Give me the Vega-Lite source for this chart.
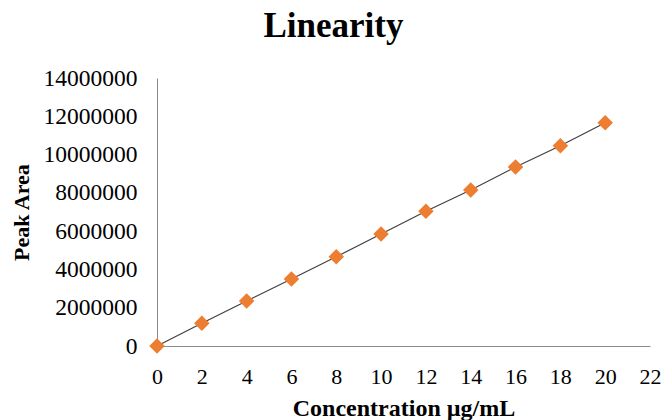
{
  "$schema": "https://vega.github.io/schema/vega-lite/v6.json",
  "width": 493,
  "height": 268,
  "autosize": "none",
  "padding": {"left": 157, "top": 78, "right": 15, "bottom": 74},
  "background": "white",
  "title": {
    "text": "Linearity",
    "font": "Liberation Serif",
    "fontSize": 35,
    "fontWeight": "bold",
    "color": "black",
    "anchor": "middle",
    "dx": -70,
    "offset": 22
  },
  "config": {
    "view": {"stroke": null},
    "axis": {
      "labelFont": "Liberation Serif",
      "titleFont": "Liberation Serif",
      "labelFontSize": 21,
      "titleFontSize": 22,
      "titleFontWeight": "bold",
      "labelColor": "black",
      "titleColor": "black",
      "domainColor": "#8c8c8c",
      "domainWidth": 1,
      "ticks": false,
      "grid": false
    }
  },
  "data": {
    "values": [
      {"conc": 0, "area": 0},
      {"conc": 2, "area": 1190000},
      {"conc": 4, "area": 2350000},
      {"conc": 6, "area": 3500000},
      {"conc": 8, "area": 4660000},
      {"conc": 10, "area": 5850000},
      {"conc": 12, "area": 7040000},
      {"conc": 14, "area": 8150000},
      {"conc": 16, "area": 9350000},
      {"conc": 18, "area": 10460000},
      {"conc": 20, "area": 11660000}
    ]
  },
  "encoding": {
    "x": {
      "field": "conc",
      "type": "quantitative",
      "scale": {"domain": [0, 22], "nice": false},
      "axis": {"values": [0, 2, 4, 6, 8, 10, 12, 14, 16, 18, 20, 22], "labelFont": "Liberation Serif", "labelFontSize": 22, "labelPadding": 20, "title": "Concentration µg/mL", "titleFont": "Liberation Serif", "titleFontSize": 24, "titlePadding": 9, "labelFlush": false}
    },
    "y": {
      "field": "area",
      "type": "quantitative",
      "scale": {"domain": [0, 14000000], "nice": false},
      "axis": {"values": [0, 2000000, 4000000, 6000000, 8000000, 10000000, 12000000, 14000000], "format": "d", "labelFont": "Liberation Serif", "labelFontSize": 23.5, "labelPadding": 20, "title": "Peak Area", "titleFont": "Liberation Serif", "titleFontSize": 22, "titlePadding": 10, "labelFlush": false}
    }
  },
  "layer": [
    {
      "mark": {"type": "line", "color": "#404040", "strokeWidth": 1.2},
      "encoding": {}
    },
    {
      "mark": {"type": "point", "shape": "diamond", "filled": true, "color": "#ED7D31", "size": 240, "opacity": 1}
    }
  ]
}
